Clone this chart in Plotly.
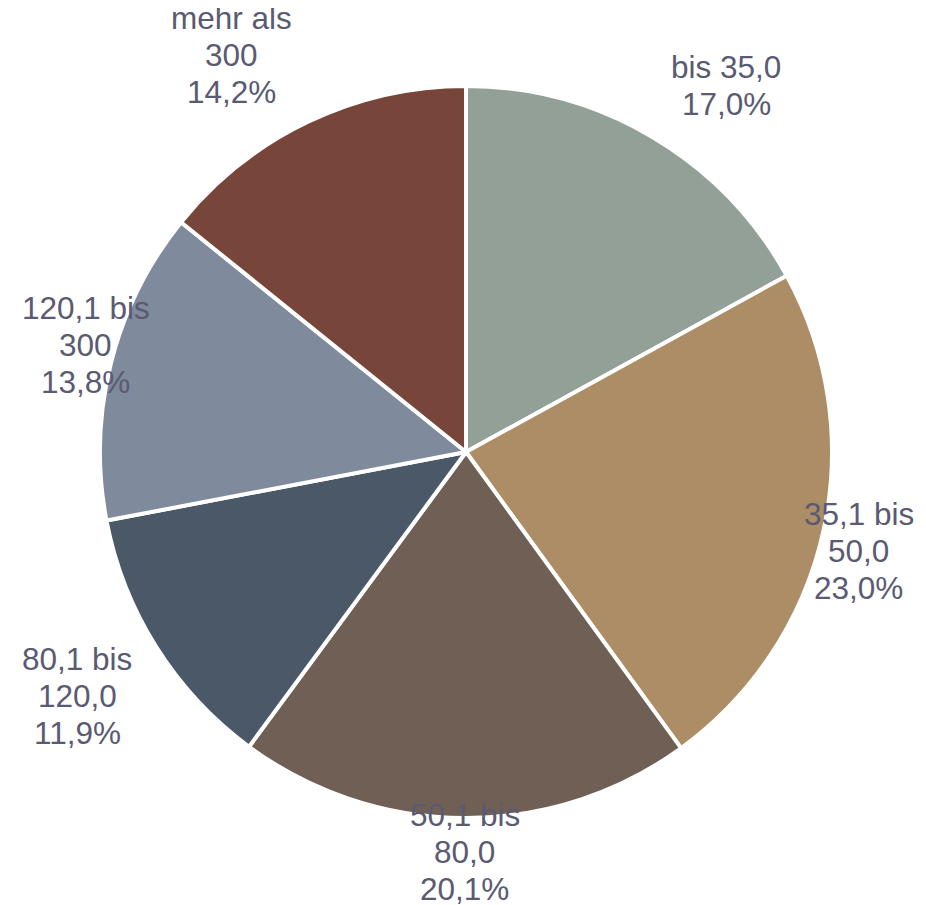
import math
import plotly.graph_objects as go

labels = ["bis 35,0", "35,1 bis<br>50,0", "50,1 bis<br>80,0", "80,1 bis<br>120,0", "120,1 bis<br>300", "mehr als<br>300"]
values = [17.0, 23.0, 20.1, 11.9, 13.8, 14.2]
pct_text = ["17,0%", "23,0%", "20,1%", "11,9%", "13,8%", "14,2%"]
colors = ["#93a097", "#ad8d65", "#705f55", "#4a5868", "#7f8a9c", "#78453b"]

W, H = 926, 905
OFF = 8  # browser body margin
cx, cy, R = 466 - OFF, 452 - OFF, 366
FS = 31.5
LS = 37
TEXT_COLOR = "#5a5a72"
MIN_LEFT = 22 - OFF

# approximate glyph widths (em) for label width estimation
CW = {d: 0.556 for d in "0123456789"}
CW.update({",": 0.278, " ": 0.278, "b": 0.556, "i": 0.222, "s": 0.5, "m": 0.833,
           "e": 0.556, "h": 0.556, "r": 0.333, "a": 0.556, "l": 0.222, "%": 0.889})


def text_w(t):
    return sum(CW.get(ch, 0.556) for ch in t) * FS


fig = go.Figure(go.Pie(
    labels=labels, values=values, sort=False, direction="clockwise", rotation=0,
    marker=dict(colors=colors, line=dict(color="white", width=4)),
    textinfo="none", hoverinfo="label+percent", showlegend=False,
    domain=dict(x=[(cx - R) / W, (cx + R) / W], y=[(H - cy - R) / H, (H - cy + R) / H]),
))

total = sum(values)
cum = 0.0
anns = []
for lab, v, pt in zip(labels, values, pct_text):
    mid = (cum + v / 2) / total * 2 * math.pi
    cum += v
    s, c = math.sin(mid), math.cos(mid)
    px = cx + 1.1 * R * s
    py = cy - 1.1 * R * c
    lines = lab.split("<br>") + [pt]
    n = len(lines)
    w = max(text_w(t) for t in lines)
    h = n * LS
    if abs(s) < 0.1:
        bx, by = px, py - 3
    elif abs(s) > 0.95:
        bx, by = px, py - 0.8 * c * h / 2 + 1.5
    else:
        bx = px + w / 2 if s > 0 else px - w / 2
        by = py - 0.8 * c * h / 2 + 6
    bx = max(bx, MIN_LEFT + w / 2)
    for i, t in enumerate(lines):
        ly = by + (i - (n - 1) / 2) * LS
        anns.append(dict(
            x=bx / W, y=1 - ly / H, xref="paper", yref="paper",
            text=t, showarrow=False, xanchor="center", yanchor="middle",
            font=dict(family="Liberation Sans, Arial", size=FS, color=TEXT_COLOR),
        ))

fig.update_layout(
    width=W, height=H, margin=dict(l=0, r=0, t=0, b=0),
    paper_bgcolor="white", plot_bgcolor="white", annotations=anns,
)
fig.write_html("out.html")
